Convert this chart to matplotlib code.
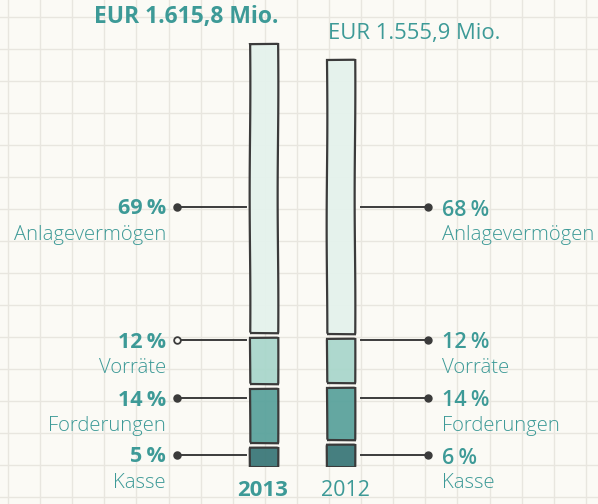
import matplotlib.pyplot as plt
import matplotlib.colors as mcolors
import numpy as np

plt.rcParams['font.family'] = ['Open Sans', 'DejaVu Sans']

# data
years = ['2013', '2012']
totals = [1615.8, 1555.9]              # EUR Mio.
categories = ['Kasse', 'Forderungen', 'Vorräte', 'Anlagevermögen']
pct_2013 = [5, 14, 12, 69]
pct_2012 = [6, 14, 12, 68]
seg_colors = ['#387677', '#58a19b', '#a8d6cb', '#e4f2ec']

TEAL = '#3d9a97'
INK = '#3b3b3b'
BG = '#fbfaf5'
GRID = '#e8e6df'


def eur(v):
    # german number format
    s = f'{v:,.1f}'.replace(',', 'X').replace('.', ',').replace('X', '.')
    return f'EUR {s} Mio.'


W, H = 598, 504
fig = plt.figure(figsize=(W / 100, H / 100), dpi=100, facecolor=BG)

# background grid + text layer, in pixel coordinates (y down)
bg = fig.add_axes([0, 0, 1, 1])
bg.set_xlim(0, W)
bg.set_ylim(H, 0)
bg.set_facecolor(BG)
bg.axis('off')
for gx in np.arange(8, W, 32.1):
    bg.axvline(gx, color=GRID, lw=1, zorder=0)
for gy in np.arange(17, H, 32.0):
    bg.axhline(gy, color=GRID, lw=1, zorder=0)

# bar layer: y in EUR Mio., bottom of bars at pixel 467
base_px = 467
px_per_mio = 423 / totals[0]
ax = fig.add_axes([0, (H - base_px) / H, 1, base_px / H])
ax.set_xlim(0, W)
ax.set_ylim(0, base_px / px_per_mio)
ax.axis('off')
ax.patch.set_alpha(0)

bar_x = [264, 341]
bar_w = 28
gap = 5 / px_per_mio
for xi, total, pcts in zip(bar_x, totals, [pct_2013, pct_2012]):
    vals = np.array(pcts) / 100 * total
    bottoms = np.concatenate([[0], np.cumsum(vals)[:-1]])
    for k, (b, v, c) in enumerate(zip(bottoms, vals, seg_colors)):
        lo = b + (gap / 2 if k > 0 else 0)
        hi = b + v - (gap / 2 if k < len(vals) - 1 else 0)
        bars = ax.bar(xi, hi - lo, bottom=lo, width=bar_w,
                      color=mcolors.to_rgba(c, 0.93),
                      edgecolor=INK, linewidth=1.6, zorder=3)
        for p in bars:
            p.set_sketch_params(0.35, 220, 1)

# labels and leader lines (pixel coords)
label_y = [455, 398, 340, 207]
left_dot_face = [INK, INK, BG, INK]
for cat, p13, p12, y, fc in zip(categories, pct_2013, pct_2012, label_y, left_dot_face):
    bg.plot([177, 246], [y, y], color=INK, lw=1.4, zorder=4)
    bg.plot(177, y, 'o', color=INK, mfc=fc, mew=1.3, ms=4.8, zorder=5)
    bg.text(166, y + 2, f'{p13}\u2009%', ha='right', va='center',
            color=TEAL, fontsize=15.5, fontweight='bold')
    bg.text(166, y + 28, cat, ha='right', va='center',
            color=TEAL, fontsize=14.6, fontweight='light')

    bg.plot([361, 428], [y, y], color=INK, lw=1.4, zorder=4)
    bg.plot(428, y, 'o', color=INK, ms=5, zorder=5)
    bg.text(442, y + 3, f'{p12}\u2009%', ha='left', va='center',
            color=TEAL, fontsize=15.5, fontweight='semibold')
    bg.text(442, y + 28, cat, ha='left', va='center',
            color=TEAL, fontsize=14.6, fontweight='light')

# totals on top
bg.text(278, 17, eur(totals[0]), ha='right', va='center',
        color=TEAL, fontsize=16.5, fontweight='bold')
bg.text(328, 33, eur(totals[1]), ha='left', va='center',
        color=TEAL, fontsize=15.8, fontweight='normal')

# year labels
bg.text(263, 491, years[0], ha='center', va='center', color=TEAL,
        fontsize=16, fontweight='bold')
bg.text(345, 491, years[1], ha='center', va='center', color=TEAL,
        fontsize=15.5, fontweight='normal')

fig.savefig('out.png', dpi=100, facecolor=BG)
